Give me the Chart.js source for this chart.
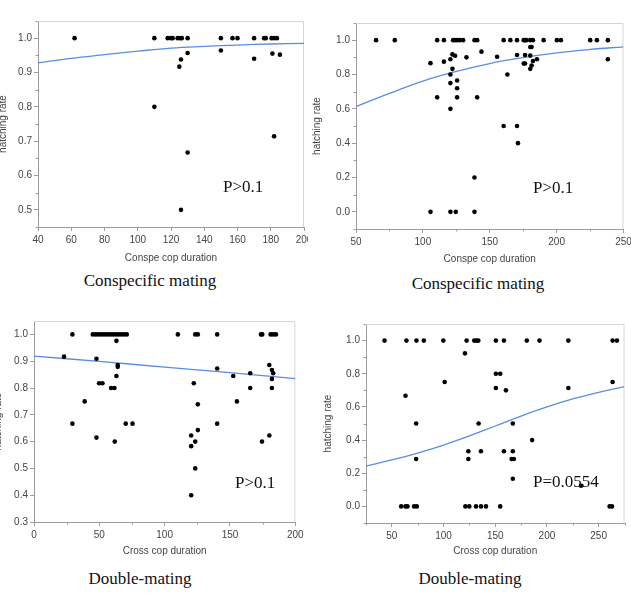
<!DOCTYPE html>
<html>
<head>
<meta charset="utf-8">
<script src="https://cdn.jsdelivr.net/npm/chart.js@4/dist/chart.umd.min.js"></script>
<style>
  body { margin: 0; background: #fff; width: 631px; height: 600px; position: relative; overflow: hidden; }
  canvas { position: absolute; }
  .cap, .pv { position: absolute; font-family: 'Liberation Serif', 'Times New Roman', serif; font-size: 17px; line-height: 1; color: #111; white-space: nowrap; }
  .cap { transform: translate(-50%, -50%); }
  .pv { transform: translateY(-50%); }
</style>
</head>
<body>
<canvas id="c1" width="311" height="264" style="left:-3px;top:0px"></canvas>
<canvas id="c2" width="320" height="265" style="left:311px;top:0px"></canvas>
<canvas id="c3" width="318" height="257" style="left:-8px;top:300px"></canvas>
<canvas id="c4" width="309" height="257" style="left:322px;top:300px"></canvas>

<div class="cap" style="left:150px;top:280px">Conspecific mating</div>
<div class="cap" style="left:478px;top:283px">Conspecific mating</div>
<div class="cap" style="left:140px;top:578px">Double-mating</div>
<div class="cap" style="left:470px;top:578px">Double-mating</div>
<div class="pv" style="left:223px;top:186px">P&gt;0.1</div>
<div class="pv" style="left:533px;top:187px">P&gt;0.1</div>
<div class="pv" style="left:235px;top:482px">P&gt;0.1</div>
<div class="pv" style="left:533px;top:481px">P=0.0554</div>

<script>
// ---- panel 1: conspecific mating (left)
const p1X = [62, 110, 110, 118, 120, 121, 124, 125.5, 126.5, 130, 125, 126, 130, 130, 126,
             150, 150, 157, 160, 170, 170, 176, 177, 180.5, 182, 183.7, 181, 182, 185.5];
const p1Y = [1, 1, 0.8, 1, 1, 1, 1, 1, 1, 1, 0.917, 0.938, 0.957, 0.667, 0.5,
             1, 0.964, 1, 1, 1, 0.94, 1, 1, 1, 1, 1, 0.955, 0.714, 0.952];
const p1FitX = [40, 60, 80, 100, 120, 140, 160, 180, 200];
const p1FitY = [0.928, 0.941, 0.952, 0.962, 0.971, 0.976, 0.980, 0.983, 0.985];
const p1XTicks = [40, 60, 80, 100, 120, 140, 160, 180, 200];
const p1YTicks = [0.5, 0.6, 0.7, 0.8, 0.9, 1.0];

// ---- panel 2: conspecific mating (right)
const p2X = [65, 79, 105.7, 105.7, 110.7, 110.7, 115.7, 115.7, 120.6, 120.6,
             120.6, 120.6, 120.6, 122.1, 122.1, 122.6, 124.1, 125.6, 127.6, 130.1,
             124.1, 124.6, 125.6, 125.6, 125.6, 132.6, 138.6, 140.6, 138.6, 138.6,
             140.6, 143.8, 155.5, 160.4, 160.4, 163.2, 165.4, 170.4, 170.4, 170.4,
             171.1, 175.4, 176.4, 177.4, 175.4, 176.4, 176.4, 180.3, 182.3, 180.3,
             181.3, 180.3, 180.3, 181.3, 182.3, 185.3, 190.3, 200.2, 203.2, 225.1,
             230.1, 238.3, 238.3];
const p2Y = [1, 1, 0.866, 0, 1, 0.667, 1, 0.875, 0.889, 0.8,
             0.75, 0.6, 0, 0.917, 0.833, 1, 1, 1, 1, 1,
             0.909, 0, 0.765, 0.72, 0.667, 0.9, 1, 1, 0.2, 0,
             0.667, 0.933, 0.903, 1, 0.5, 0.8, 1, 1, 0.914, 0.5,
             0.4, 1, 1, 1, 0.864, 0.914, 0.864, 1, 1, 0.96,
             0.96, 0.91, 0.833, 0.852, 0.879, 0.889, 1, 1, 1, 1,
             1, 1, 0.889];
const p2FitX = [50, 75, 100, 125, 150, 175, 200, 225, 250];
const p2FitY = [0.613, 0.69, 0.762, 0.818, 0.864, 0.898, 0.926, 0.946, 0.961];
const p2XTicks = [50, 100, 150, 200, 250];
const p2YTicks = [0, 0.2, 0.4, 0.6, 0.8, 1.0];

// ---- panel 3: double-mating (left)
const p3X = [23, 29.4, 29.4, 38.8, 45, 47, 49, 51, 53, 55, 57, 59, 61, 63, 65, 67, 69, 71,
             47.8, 47.8, 49.8, 52.4, 59, 61.6, 61.8, 63.1, 63.1, 64.1, 64.1, 70.2, 75.4,
             110.1, 120.3, 120.3, 120.3, 122.3, 123.4, 125.4, 123.4, 123.4, 125.4, 125.4,
             140.2, 140.2, 140.2, 152.5, 155.3, 165.5, 165.5, 173.7, 174.7, 174.5,
             180.1, 180.1, 181.1, 183.1, 185.2, 182.1, 182.1, 182.1, 183.1];
const p3Y = [0.917, 1, 0.667, 0.75, 1, 1, 1, 1, 1, 1, 1, 1, 1, 1, 1, 1, 1, 1,
             0.909, 0.615, 0.818, 0.818, 0.8, 0.8, 0.6, 0.976, 0.845, 0.886, 0.879, 0.667, 0.667,
             1, 0.623, 0.583, 0.4, 0.818, 1, 1, 0.6, 0.5, 0.739, 0.643,
             1, 0.873, 0.667, 0.845, 0.75, 0.855, 0.8, 1, 1, 0.6,
             0.886, 0.623, 1, 1, 1, 0.867, 0.834, 0.8, 0.855];
const p3FitX = [0, 50, 100, 150, 200];
const p3FitY = [0.919, 0.899, 0.878, 0.857, 0.835];
const p3XTicks = [0, 50, 100, 150, 200];
const p3YTicks = [0.3, 0.4, 0.5, 0.6, 0.7, 0.8, 0.9, 1.0];

// ---- panel 4: double-mating (right)
const p4X = [42.9, 64.1, 63.2, 59, 63.2, 65.1, 73.8, 73.5, 73.5, 71.5, 74.1, 80.9, 99.8, 101.1,
             120.7, 122.3, 121.1, 124.9, 124, 124, 129.7, 131.7, 133.6, 131.4, 136.2, 141,
             133.9, 136.2, 150.6, 150.6, 150.6, 154.8, 154.8, 158.4, 158.4, 160.3, 167, 167,
             165.8, 168, 167, 180.5, 185.7, 192.8, 220.7, 220.7, 233, 263.5, 267.7, 263.5,
             260.6, 262.9];
const p4Y = [1, 1, 0.667, 0, 0, 0, 1, 0.5, 0.286, 0, 0, 1, 1, 0.75,
             0.923, 1, 0, 0, 0.333, 0.286, 1, 1, 1, 0, 0, 0,
             0.5, 0.333, 1, 0.8, 0.714, 0.8, 0, 1, 0.333, 0.7, 0.5, 0.333,
             0.286, 0.286, 0.167, 1, 0.4, 1, 1, 0.714, 0.125, 1, 1, 0.75,
             0, 0];
const p4FitX = [25, 50, 75, 100, 125, 150, 175, 200, 225, 250, 275];
const p4FitY = [0.244, 0.28, 0.322, 0.37, 0.425, 0.485, 0.545, 0.6, 0.648, 0.688, 0.722];
const p4XTicks = [50, 100, 150, 200, 250];
const p4YTicks = [0, 0.2, 0.4, 0.6, 0.8, 1.0];

const tickFont = { family: "'Liberation Sans', Arial, sans-serif", size: 10 };
const axisGrey = '#9c9c9c';

// half-step ticks between the labelled ones
function halfSteps(ticks, min, max) {
    const step = ticks[1] - ticks[0];
    const out = [];
    for (let v = ticks[0] - step / 2; v <= max + 1e-9; v += step) {
        if (v >= min - 1e-9) out.push(v);
    }
    return out;
}

// light box on top/right + short minor ticks, JMP style
const framePlugin = {
    id: 'frame',
    beforeDatasetsDraw(chart, args, opts) {
        const { ctx, chartArea: a, scales } = chart;
        ctx.save();
        ctx.strokeStyle = '#d6d6d6';
        ctx.lineWidth = 1;
        ctx.beginPath();
        ctx.moveTo(a.left, a.top + 0.5);
        ctx.lineTo(a.right - 0.5, a.top + 0.5);
        ctx.lineTo(a.right - 0.5, a.bottom);
        ctx.stroke();

        ctx.strokeStyle = axisGrey;
        ctx.beginPath();
        if (opts.minorX) {
            halfSteps(opts.xTicks, scales.x.min, scales.x.max).forEach(v => {
                const px = Math.round(scales.x.getPixelForValue(v)) + 0.5;
                ctx.moveTo(px, a.bottom);
                ctx.lineTo(px, a.bottom + 2.5);
            });
        }
        if (opts.minorY) {
            halfSteps(opts.yTicks, scales.y.min, scales.y.max).forEach(v => {
                const py = Math.round(scales.y.getPixelForValue(v)) + 0.5;
                ctx.moveTo(a.left, py);
                ctx.lineTo(a.left - 2.5, py);
            });
        }
        ctx.stroke();
        ctx.restore();
    }
};

function makePanel(id, d) {
    const points = d.x.map((v, i) => ({ x: v, y: d.y[i] }));
    const fit = d.fitX.map((v, i) => ({ x: v, y: d.fitY[i] }));
    return new Chart(document.getElementById(id), {
        type: 'scatter',
        data: {
            datasets: [
                {
                    data: points,
                    pointRadius: 2.3,
                    pointBackgroundColor: '#000',
                    pointBorderWidth: 0,
                    order: 1
                },
                {
                    type: 'line',
                    data: fit,
                    borderColor: '#5b8ce2',
                    borderWidth: 1.3,
                    pointRadius: 0,
                    fill: false,
                    tension: 0.4,
                    order: 2
                }
            ]
        },
        options: {
            responsive: false,
            animation: false,
            events: [],
            layout: { padding: d.pad },
            plugins: {
                legend: { display: false },
                tooltip: { enabled: false },
                frame: { xTicks: d.xTicks, yTicks: d.yTicks, minorX: d.minorX, minorY: d.minorY }
            },
            scales: {
                x: {
                    type: 'linear',
                    min: d.xMin,
                    max: d.xMax,
                    afterBuildTicks: s => { s.ticks = d.xTicks.map(v => ({ value: v })); },
                    afterFit: s => { s.height = d.xHeight; s.paddingLeft = 0; s.paddingRight = 0; },
                    grid: { drawOnChartArea: false, tickLength: 4, tickColor: axisGrey },
                    border: { color: axisGrey },
                    ticks: { font: tickFont, color: '#444', padding: 3, maxRotation: 0, autoSkip: false,
                             callback: v => String(v) },
                    title: { display: true, text: d.xTitle, font: tickFont, color: '#444', padding: 0 }
                },
                y: {
                    type: 'linear',
                    min: d.yMin,
                    max: d.yMax,
                    afterBuildTicks: s => { s.ticks = d.yTicks.map(v => ({ value: v })); },
                    afterFit: s => { s.width = d.yWidth; s.paddingTop = 0; s.paddingBottom = 0; },
                    grid: { drawOnChartArea: false, tickLength: 4, tickColor: axisGrey },
                    border: { color: axisGrey },
                    ticks: { font: tickFont, color: '#444', padding: 2, autoSkip: false,
                             callback: v => v.toFixed(1) },
                    title: { display: true, text: 'hatching rate', font: tickFont, color: '#444', padding: 0 }
                }
            }
        },
        plugins: [framePlugin]
    });
}

makePanel('c1', {
    x: p1X, y: p1Y, fitX: p1FitX, fitY: p1FitY, xTicks: p1XTicks, yTicks: p1YTicks,
    xMin: 40, xMax: 200, yMin: 0.45, yMax: 1.05, xTitle: 'Conspe cop duration',
    minorX: false, minorY: true, yWidth: 41, xHeight: 37, pad: { left: 0, top: 21, right: 2, bottom: 0 }
});
makePanel('c2', {
    x: p2X, y: p2Y, fitX: p2FitX, fitY: p2FitY, xTicks: p2XTicks, yTicks: p2YTicks,
    xMin: 50, xMax: 250, yMin: -0.1, yMax: 1.1, xTitle: 'Conspe cop duration',
    minorX: true, minorY: true, yWidth: 45, xHeight: 36, pad: { left: 0, top: 23, right: 7.5, bottom: 0 }
});
makePanel('c3', {
    x: p3X, y: p3Y, fitX: p3FitX, fitY: p3FitY, xTicks: p3XTicks, yTicks: p3YTicks,
    xMin: 0, xMax: 200, yMin: 0.3, yMax: 1.05, xTitle: 'Cross cop duration',
    minorX: true, minorY: false, yWidth: 42, xHeight: 35, pad: { left: 0, top: 21, right: 14.7, bottom: 0 }
});
makePanel('c4', {
    x: p4X, y: p4Y, fitX: p4FitX, fitY: p4FitY, xTicks: p4XTicks, yTicks: p4YTicks,
    xMin: 25, xMax: 275, yMin: -0.1, yMax: 1.1, xTitle: 'Cross cop duration',
    minorX: true, minorY: true, yWidth: 44, xHeight: 34, pad: { left: 0, top: 24, right: 6.5, bottom: 0 }
});
</script>
</body>
</html>
